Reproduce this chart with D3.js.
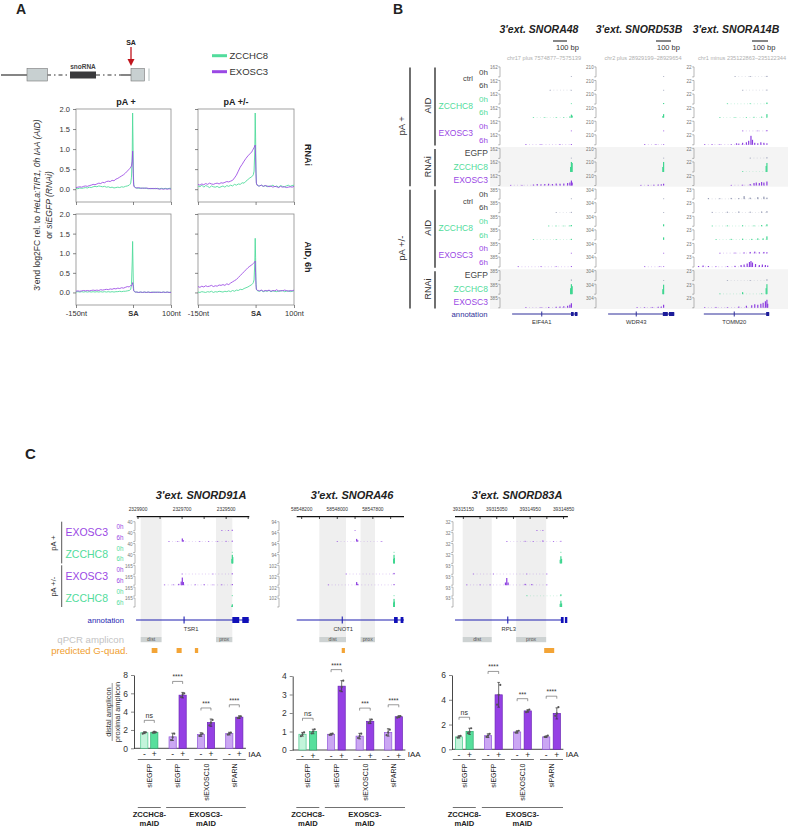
<!DOCTYPE html>
<html><head><meta charset="utf-8">
<script src="https://cdn.jsdelivr.net/npm/d3@7"></script>
<style>body{margin:0;background:#fff}svg{display:block}</style>
</head><body>
<svg id="c" width="796" height="830" font-family="'Liberation Sans', Arial, Helvetica, sans-serif"></svg>
<script>
// ================= DATA =================
// Panel A: metaprofiles (position in nt relative to SA)
const profPos=[-150,-145,-140,-135,-130,-125,-120,-115,-110,-105,-100,-95,-90,-85,-80,-75,-70,-65,-60,-55,-50,-45,-40,-35,-30,-25,-20,-15,-10,
 -8,-6,-4,-2,-1,0,1,2,4,6,8,
 10,15,20,25,30,35,40,45,50,55,60,65,70,75,80,85,90,95,100];
const rnaiPlusZCCHC8=[0.02,0.01,0.03,0.02,0.03,0.04,0.03,0.05,0.04,0.06,0.07,0.06,0.08,0.07,0.06,0.07,0.05,0.06,0.04,0.05,0.03,0.04,0.05,0.04,0.06,0.05,0.07,0.08,0.10,
 0.12,0.15,0.30,0.90,1.90,1.20,0.40,0.12,0.06,0.04,0.03,
 0.03,0.02,0.03,0.02,0.03,0.02,0.01,0.02,0.01,0.02,0.01,0.02,0.01,0.02,0.01,0.02,0.01,0.02,0.02];
const rnaiPlusEXOSC3=[0.04,0.05,0.06,0.05,0.07,0.08,0.07,0.09,0.10,0.12,0.11,0.13,0.15,0.14,0.17,0.16,0.19,0.20,0.19,0.22,0.21,0.25,0.27,0.30,0.33,0.36,0.40,0.45,0.50,
 0.52,0.55,0.58,0.70,0.95,0.60,0.25,0.08,0.05,0.04,0.03,
 0.03,0.04,0.02,0.03,0.02,0.03,0.02,0.01,0.02,0.01,0.02,0.01,0.00,0.01,0.00,0.01,0.00,0.01,0.00];
const rnaiPmZCCHC8=[0.08,0.06,0.10,0.05,0.09,0.07,0.04,0.08,0.06,0.05,0.07,0.04,0.06,0.08,0.05,0.09,0.07,0.10,0.08,0.12,0.10,0.13,0.12,0.16,0.15,0.20,0.24,0.28,0.31,
 0.33,0.36,0.45,1.00,1.90,1.30,0.50,0.15,0.10,0.09,0.08,
 0.08,0.10,0.07,0.09,0.06,0.08,0.07,0.10,0.06,0.08,0.05,0.09,0.07,0.06,0.08,0.10,0.07,0.09,0.10];
const rnaiPmEXOSC3=[0.12,0.10,0.13,0.11,0.14,0.12,0.15,0.13,0.12,0.14,0.15,0.13,0.16,0.15,0.17,0.19,0.18,0.20,0.22,0.28,0.35,0.45,0.55,0.62,0.70,0.77,0.83,0.88,0.93,
 0.97,1.00,1.04,1.08,1.10,0.80,0.40,0.15,0.10,0.09,0.08,
 0.08,0.10,0.07,0.09,0.08,0.06,0.08,0.05,0.07,0.06,0.04,0.07,0.05,0.06,0.04,0.05,0.06,0.05,0.07];
const aidPlusZCCHC8=[0.01,0.02,0.01,0.02,0.01,0.02,0.01,0.02,0.01,0.02,0.01,0.02,0.01,0.02,0.01,0.02,0.01,0.02,0.01,0.02,0.01,0.02,0.02,0.03,0.02,0.03,0.03,0.04,0.05,
 0.06,0.08,0.20,0.80,1.30,0.70,0.20,0.05,0.02,0.01,0.01,
 0.01,0.00,0.01,0.00,0.01,0.00,0.01,0.00,0.01,0.00,0.01,0.00,0.01,0.00,0.01,0.00,0.01,0.00,0.01];
const aidPlusEXOSC3=[0.03,0.04,0.03,0.04,0.05,0.04,0.05,0.04,0.05,0.06,0.05,0.06,0.05,0.07,0.06,0.07,0.08,0.07,0.09,0.08,0.10,0.09,0.11,0.10,0.12,0.11,0.13,0.15,0.14,
 0.16,0.18,0.17,0.20,0.25,0.20,0.10,0.04,0.02,0.01,0.01,
 0.01,0.00,0.01,0.00,0.01,0.00,0.01,0.00,0.00,0.01,0.00,0.01,0.00,0.00,0.01,0.00,0.01,0.00,0.00];
const aidPmZCCHC8=[0.01,0.00,0.02,0.01,0.00,0.02,0.01,0.03,0.00,0.02,0.01,0.03,0.02,0.01,0.03,0.02,0.04,0.02,0.05,0.03,0.06,0.05,0.08,0.07,0.10,0.12,0.14,0.17,0.20,
 0.22,0.25,0.32,0.80,1.38,0.90,0.30,0.08,0.05,0.04,0.03,
 0.03,0.05,0.02,0.04,0.03,0.05,0.02,0.04,0.03,0.02,0.04,0.03,0.05,0.02,0.03,0.04,0.02,0.03,0.04];
const aidPmEXOSC3=[0.15,0.13,0.16,0.14,0.17,0.15,0.16,0.18,0.15,0.17,0.16,0.19,0.18,0.20,0.18,0.22,0.20,0.24,0.27,0.30,0.33,0.38,0.43,0.48,0.53,0.58,0.63,0.67,0.70,
 0.72,0.74,0.76,0.78,0.80,0.50,0.20,0.08,0.06,0.05,0.05,
 0.04,0.06,0.03,0.05,0.04,0.06,0.03,0.05,0.04,0.07,0.03,0.05,0.04,0.06,0.05,0.03,0.05,0.04,0.06];
const aYTicks=[0,0.5,1,1.5,2];
const aXTicks=[-150,0,100];
const aXTickLabels=["-150nt","SA","100nt"];

// Panel B: track rows, scales, signal peaks [relative position 0-100, fraction of scale]
const bRowTimes=["0h","6h","0h","6h","0h","6h","EGFP","ZCCHC8","EXOSC3"];
const bRowKinds=["ctrl","ctrl","ZCCHC8","ZCCHC8","EXOSC3","EXOSC3","ctrl","ZCCHC8","EXOSC3"];
const bTitles=["3'ext. SNORA48","3'ext. SNORD53B","3'ext. SNORA14B"];
const bCoords=["chr17 plus 7574877–7575139","chr2 plus 28929199–28929654","chr1 minus 235122863–235122344"];
const bGenes=["EIF4A1","WDR43","TOMM20"];
const bScalesSNORA48=[162,162,162,162,162,162,162,162,162,385,385,385,385,385,385,385,385,385];
const bScalesSNORD53B=[210,210,210,210,210,210,210,210,210,304,304,304,304,304,304,304,304,304];
const bScalesSNORA14B=[22,22,22,22,22,22,22,22,22,23,23,23,23,23,23,23,23,23];
const bTracksSNORA48=[
 [[90,0.04]],[[62,0.02],[90,0.05]],[[90,0.05]],
 [[40,0.03],[55,0.03],[70,0.04],[80,0.04],[88,0.12],[90,0.3],[91,0.2]],
 [[90,0.05]],[[30,0.02],[50,0.03],[75,0.03],[90,0.08]],
 [[90,0.05]],[[89,0.5],[90,1.0],[91,0.9]],
 [[10,0.03],[25,0.04],[40,0.1],[45,0.15],[50,0.12],[55,0.15],[60,0.18],[65,0.15],[70,0.2],[75,0.18],[80,0.2],[85,0.25],[88,0.3],[90,0.5],[91,0.3]],
 [[90,0.05]],[[70,0.03],[90,0.08]],
 [[60,0.04],[70,0.05],[80,0.05],[88,0.08],[90,0.12]],
 [[40,0.03],[70,0.03],[90,0.1]],
 [[90,0.06]],[[20,0.03],[50,0.03],[70,0.04],[90,0.08]],
 [[90,0.1]],[[89,0.6],[90,1.0],[91,0.8]],
 [[30,0.03],[50,0.06],[60,0.08],[70,0.1],[75,0.12],[80,0.15],[85,0.2],[88,0.3],[90,0.45]]
];
const bTracksSNORD53B=[
 [[85,0.04]],[[85,0.04]],[[85,0.1]],[[84,0.15],[85,0.35]],
 [[85,0.05]],[[60,0.02],[75,0.03],[85,0.05]],
 [[85,0.03]],[[84,0.5],[85,1.0]],
 [[55,0.04],[65,0.06],[72,0.08],[78,0.1],[82,0.12],[85,0.18]],
 [[85,0.04]],[[85,0.05]],[[85,0.2]],[[85,0.25]],
 [[85,0.04]],[[60,0.03],[80,0.04],[85,0.06]],
 [[85,0.05]],[[84,0.5],[85,0.95]],
 [[50,0.04],[60,0.05],[70,0.08],[78,0.1],[82,0.12],[85,0.3]]
];
const bTracksSNORA14B=[
 [[50,0.05],[70,0.08],[92,0.1]],[[60,0.05],[92,0.08]],
 [[40,0.05],[70,0.06],[92,0.15]],
 [[30,0.03],[50,0.05],[65,0.06],[75,0.08],[85,0.1],[92,0.35]],
 [[60,0.05],[80,0.06],[92,0.1]],
 [[10,0.03],[20,0.04],[30,0.03],[45,0.06],[52,0.15],[55,0.12],[60,0.2],[65,0.25],[68,0.4],[71,0.9],[73,0.5],[76,0.2],[80,0.15],[84,0.25],[88,0.2],[92,0.15]],
 [[70,0.05],[92,0.1]],
 [[60,0.05],[91,0.6],[92,0.9]],
 [[45,0.05],[60,0.08],[70,0.15],[75,0.25],[78,0.3],[82,0.25],[85,0.35],[88,0.3],[92,0.4]],
 [[15,0.1],[30,0.08],[45,0.12],[55,0.1],[62,0.3],[70,0.15],[80,0.2],[88,0.25],[92,0.15]],
 [[20,0.08],[40,0.1],[55,0.12],[70,0.1],[85,0.12],[92,0.15]],
 [[20,0.05],[40,0.08],[60,0.1],[75,0.08],[85,0.12],[92,0.2]],
 [[25,0.06],[45,0.1],[60,0.12],[72,0.1],[80,0.15],[87,0.15],[92,0.35]],
 [[30,0.05],[50,0.08],[62,0.1],[70,0.15],[76,0.18],[82,0.12],[88,0.15],[92,0.12]],
 [[2,0.1],[8,0.15],[15,0.1],[25,0.06],[40,0.08],[50,0.12],[58,0.2],[62,0.25],[66,0.35],[69,0.5],[71,0.6],[73,0.45],[77,0.3],[82,0.2],[86,0.25],[90,0.2],[93,0.15]],
 [[40,0.05],[70,0.06],[92,0.12]],
 [[30,0.05],[60,0.2],[85,0.08],[91,0.6],[92,1.0]],
 [[10,0.06],[25,0.08],[40,0.06],[55,0.12],[65,0.2],[72,0.25],[76,0.35],[80,0.3],[84,0.4],[87,0.5],[90,0.65],[92,0.8],[93,0.4]]
];
// gene models (relative 0-100): line, intron marker, exon blocks
const bGeneEIF4A1={line:[12,98],tick:51,exons:[[89.5,93],[94.5,98]]};
const bGeneWDR43={line:[12,99],tick:49,exons:[[84,90.5],[92,99]]};
const bGeneTOMM20={line:[9,95],tick:49,exons:[[91,95]]};

// Panel C: genome tracks (genomic coordinates)
const cTitles=["3'ext. SNORD91A","3'ext. SNORA46","3'ext. SNORD83A"];
const cRowTimes=["0h","6h","0h","6h","0h","6h","0h","6h"];
const cRowKinds=["EXOSC3","EXOSC3","ZCCHC8","ZCCHC8","EXOSC3","EXOSC3","ZCCHC8","ZCCHC8"];
const cScalesSNORD91A=[40,40,40,40,165,165,165,165];
const cScalesSNORA46=[94,94,94,94,102,102,102,102];
const cScalesSNORD83A=[32,32,32,32,93,93,93,93];
const cDomSNORD91A=[2329906,2329395], cTicksSNORD91A=[2329900,2329800,2329700,2329600,2329500,2329400], cLabelsSNORD91A=[2329900,2329700,2329500];
const cDomSNORA46=[58548228,58547625], cTicksSNORA46=[58548200,58548100,58548000,58547900,58547800,58547700], cLabelsSNORA46=[58548200,58548000,58547800];
const cDomSNORD83A=[39315175,39314837], cTicksSNORD83A=[39315150,39315100,39315050,39315000,39314950,39314900,39314850], cLabelsSNORD83A=[39315150,39315050,39314950,39314850];
const cTracksSNORD91A=[
 [[2329520,0.06],[2329490,0.05],[2329472,0.1]],
 [[2329760,0.04],[2329720,0.05],[2329699,0.35],[2329694,0.15],[2329620,0.05],[2329580,0.06],[2329540,0.05],[2329500,0.08],[2329472,0.1]],
 [[2329472,0.05]],
 [[2329474,0.5],[2329472,0.95],[2329470,0.7]],
 [[2329700,0.05],[2329560,0.06],[2329472,0.1]],
 [[2329780,0.05],[2329740,0.08],[2329715,0.15],[2329704,0.4],[2329699,0.85],[2329694,0.35],[2329640,0.08],[2329600,0.1],[2329560,0.06],[2329520,0.08],[2329472,0.12]],
 [[2329472,0.08]],
 [[2329474,0.15],[2329472,0.3]]
];
const cTracksSNORA46=[
 [[58547900,0.04]],
 [[58548000,0.04],[58547891,0.3],[58547885,0.15],[58547750,0.05]],
 [[58547681,0.05]],
 [[58547683,0.5],[58547681,0.95],[58547679,0.6]],
 [[58547950,0.04],[58547681,0.15]],
 [[58548050,0.05],[58547891,0.35],[58547885,0.15],[58547681,0.12]],
 [[58547681,0.05]],
 [[58547683,0.5],[58547681,0.9],[58547679,0.6]]
];
const cTracksSNORD83A=[
 [[39314930,0.06],[39314912,0.08]],
 [[39315020,0.06],[39314965,0.08],[39314941,0.06],[39314912,0.12],[39314880,0.06],[39314858,0.08]],
 [[39314858,0.05]],
 [[39314860,0.4],[39314858,0.8],[39314856,0.5]],
 [[39315120,0.04],[39315060,0.04],[39314960,0.05],[39314900,0.05]],
 [[39315140,0.05],[39315100,0.06],[39315070,0.05],[39315024,0.3],[39315020,0.8],[39315016,0.3],[39314965,0.15],[39314945,0.12],[39314900,0.06]],
 [[39314960,0.04],[39314858,0.2]],
 [[39314860,0.35],[39314858,0.7],[39314856,0.4]]
];
const cShadeSNORD91A=[[2329888,2329793],[2329546,2329472]];
const cShadeSNORA46=[[58548101,58547951],[58547869,58547788]];
const cShadeSNORD83A=[[39315152,39315065],[39314992,39314902]];
const cShadeLabels=["dist","prox"];
const cGeneTSR1={name:"TSR1",line:[2329909,2329395],tick:2329691,exons:[[2329472,2329438],[2329427,2329395]]};
const cGeneCNOT1={name:"CNOT1",line:[58548228,58547625],tick:58547972,exons:[[58547681,58547657],[58547644,58547625]]};
const cGeneRPL3={name:"RPL3",line:[39315175,39314856],tick:39315017,exons:[[39314858,39314848],[39314846,39314837]]};
const cGquadSNORD91A=[[2329838,2329812],[2329725,2329702],[2329642,2329627]];
const cGquadSNORA46=[[58547975,58547957]];
const cGquadSNORD83A=[[39314908,39314878]];

// Panel C: qPCR bar charts (order: ZCCHC8 siEGFP -,+ ; EXOSC3 siEGFP -,+ ; siEXOSC10 -,+ ; siPARN -,+)
const barSiRNA=["siEGFP","siEGFP","siEXOSC10","siPARN"];
const barIAA=["-","+"];
const barLines=["ZCCHC8-","EXOSC3-"];
const meanSNORD91A=[1.7,1.75,1.25,5.8,1.5,2.8,1.6,3.4];
const errSNORD91A=[0.1,0.1,0.4,0.3,0.2,0.4,0.15,0.15];
const repSNORD91A=[[1.6,1.7,1.75],[1.7,1.8,1.75],[0.9,1.2,1.6],[5.6,5.9,6.0],[1.35,1.5,1.6],[2.5,2.8,3.1],[1.5,1.6,1.7],[3.3,3.4,3.5]];
const meanSNORA46=[0.85,1.0,0.85,3.45,0.75,1.55,0.95,1.8];
const errSNORA46=[0.1,0.12,0.05,0.3,0.15,0.12,0.2,0.05];
const repSNORA46=[[0.75,0.85,0.95],[0.9,1.0,1.12],[0.82,0.85,0.88],[3.2,3.4,3.75],[0.65,0.75,0.88],[1.45,1.55,1.65],[0.8,0.95,1.1],[1.75,1.8,1.83]];
const meanSNORD83A=[1.0,1.45,1.1,4.4,1.4,3.1,1.0,2.9];
const errSNORD83A=[0.1,0.25,0.15,1.0,0.1,0.1,0.05,0.45];
const repSNORD83A=[[0.95,1.0,1.08],[1.3,1.4,1.7],[1.0,1.1,1.25],[3.6,4.4,5.2],[1.35,1.4,1.5],[3.0,3.1,3.2],[1.0,1.05,1.1],[2.7,2.9,3.4]];
const sigLabels=["ns","****","***","****"];

// ================= DRAWING =================
const svg=d3.select("#c");
const GREEN="#52dc9c", PURPLE="#9a48e4", DARK="#222", NAVY="#2f2f9a", BLUE="#1e1eb0";
const kindColor={ctrl:"#444",ZCCHC8:GREEN,EXOSC3:PURPLE};
const trackColor={ctrl:"#8f95b0",ZCCHC8:"#3fd690",EXOSC3:"#8c3ee0"};

function txt(g,x,y,s,o={}){
  const t=g.append("text").attr("x",x).attr("y",y).text(s)
    .attr("font-size",o.size||8).attr("fill",o.fill||DARK)
    .attr("text-anchor",o.anchor||"start");
  if(o.bold) t.attr("font-weight","bold");
  if(o.italic) t.attr("font-style","italic");
  if(o.rotate!=null) t.attr("transform",`rotate(${o.rotate},${x},${y})`);
  return t;
}
function styleAxis(g,size){
  g.attr("font-family",null).attr("font-size",size);
  g.selectAll("text").attr("fill","#333");
  g.selectAll("line").attr("stroke","#555").attr("stroke-width",0.7);
  g.selectAll(".domain").attr("stroke","#555");
}

// ---------- Panel A ----------
const gA=svg.append("g");
txt(gA,16,14,"A",{size:14,bold:true});
// schematic
gA.append("line").attr("x1",1).attr("x2",27).attr("y1",75).attr("y2",75).attr("stroke","#333").attr("stroke-width",1.2);
gA.append("line").attr("x1",47).attr("x2",70).attr("y1",75).attr("y2",75).attr("stroke","#333").attr("stroke-width",1.2).attr("stroke-dasharray","4,3,1.5,3");
gA.append("line").attr("x1",96).attr("x2",121).attr("y1",75).attr("y2",75).attr("stroke","#333").attr("stroke-width",1.2).attr("stroke-dasharray","4,3,1.5,3");
gA.append("line").attr("x1",121).attr("x2",131).attr("y1",75).attr("y2",75).attr("stroke","#333").attr("stroke-width",1.2);
gA.append("rect").attr("x",27).attr("y",68.5).attr("width",20.5).attr("height",12.5).attr("fill","#c8d0d1").attr("stroke","#777").attr("stroke-width",0.6);
gA.append("rect").attr("x",70).attr("y",71.5).attr("width",26).attr("height",7).attr("fill","#3a3a3c");
gA.append("rect").attr("x",131).attr("y",68.5).attr("width",13.5).attr("height",12.5).attr("fill","#c8d0d1").attr("stroke","#777").attr("stroke-width",0.6);
gA.append("rect").attr("x",148).attr("y",68.5).attr("width",2).attr("height",12.5).attr("fill","#d8dede");
txt(gA,83,69,"snoRNA",{size:6.5,bold:true,anchor:"middle",fill:"#444"});
txt(gA,131,45,"SA",{size:7,bold:true,anchor:"middle"});
gA.append("line").attr("x1",131).attr("x2",131).attr("y1",47).attr("y2",60).attr("stroke","#c0141c").attr("stroke-width",1.3);
gA.append("path").attr("d","M127.5,59 L134.5,59 L131,66 Z").attr("fill","#c0141c");
// legend
[["ZCCHC8",GREEN,55.7],["EXOSC3",PURPLE,71.7]].forEach(([l,c,y])=>{
  gA.append("line").attr("x1",212).attr("x2",227).attr("y1",y).attr("y2",y).attr("stroke",c).attr("stroke-width",3);
  txt(gA,229.5,y+3.4,l,{size:9.5,fill:"#333"});
});
const aPlots=[
 {x0:76,x1:171,y0:109,y1:202,z:rnaiPlusZCCHC8,e:rnaiPlusEXOSC3,ylab:true,xlab:false},
 {x0:198,x1:294,y0:109,y1:202,z:rnaiPmZCCHC8,e:rnaiPmEXOSC3,ylab:false,xlab:false},
 {x0:76,x1:171,y0:214,y1:305,z:aidPlusZCCHC8,e:aidPlusEXOSC3,ylab:true,xlab:true},
 {x0:198,x1:294,y0:214,y1:305,z:aidPmZCCHC8,e:aidPmEXOSC3,ylab:false,xlab:true}
];
aPlots.forEach(p=>{
  const x=d3.scaleLinear().domain([-150,100]).range([p.x0,p.x1]);
  const y=d3.scaleLinear().domain([-0.32,2.0]).range([p.y1,p.y0]);
  const g=gA.append("g");
  g.append("rect").attr("x",p.x0).attr("y",p.y0).attr("width",p.x1-p.x0).attr("height",p.y1-p.y0).attr("fill","none").attr("stroke","#8c8c8c").attr("stroke-width",0.8);
  const ay=g.append("g").attr("transform",`translate(${p.x0},0)`).call(d3.axisLeft(y).tickValues(aYTicks).tickSize(3).tickSizeOuter(0).tickFormat(p.ylab?d3.format(".1f"):()=>""));
  styleAxis(ay,7.5); ay.select(".domain").remove();
  const ax=g.append("g").attr("transform",`translate(0,${p.y1})`).call(d3.axisBottom(x).tickValues(aXTicks).tickSize(3).tickSizeOuter(0).tickFormat((d,i)=>p.xlab?aXTickLabels[i]:""));
  styleAxis(ax,7.5); ax.select(".domain").remove();
  ax.selectAll("text").filter(d=>d===0).attr("font-weight","bold");
  const line=d3.line().x(d=>x(d[0])).y(d=>y(d[1]));
  const mk=arr=>profPos.map((pp,i)=>[pp,arr[i]]).filter(d=>d[1]!=null);
  g.append("path").attr("d",line(mk(p.z))).attr("fill","none").attr("stroke",GREEN).attr("stroke-width",1).attr("opacity",0.9);
  g.append("path").attr("d",line(mk(p.e))).attr("fill","none").attr("stroke",PURPLE).attr("stroke-width",1).attr("opacity",0.85);
});
txt(gA,126,105,"pA +",{size:9,bold:true,anchor:"middle"});
txt(gA,236,105,"pA +/-",{size:9,bold:true,anchor:"middle"});
txt(gA,305,155,"RNAi",{size:9,bold:true,anchor:"middle",rotate:90});
txt(gA,305,257,"AID, 6h",{size:9,bold:true,anchor:"middle",rotate:90});
{
  const t1=gA.append("text").attr("transform","translate(39.5,205) rotate(-90)").attr("text-anchor","middle").attr("font-size",8.6).attr("fill","#333");
  t1.append("tspan").text("3'end log2FC rel. to ");
  t1.append("tspan").attr("font-style","italic").text("HeLa:TIR1, 0h IAA (AID)");
  const t2=gA.append("text").attr("transform","translate(51.5,205) rotate(-90)").attr("text-anchor","middle").attr("font-size",8.6).attr("fill","#333");
  t2.append("tspan").text("or ");
  t2.append("tspan").attr("font-style","italic").text("siEGFP (RNAi)");
}

// ---------- generic track drawer ----------
function drawTrack(g,x,base,h,peaks,color){
  if(!peaks.length) return;
  const xs=peaks.map(d=>x(d[0]));
  g.append("line").attr("x1",d3.min(xs)).attr("x2",d3.max(xs)).attr("y1",base-0.3).attr("y2",base-0.3)
    .attr("stroke",color).attr("stroke-width",0.6).attr("stroke-dasharray","0.8,2.5").attr("opacity",0.5);
  g.selectAll(null).data(peaks).join("rect")
    .attr("x",d=>x(d[0])-0.6).attr("width",1.2)
    .attr("y",d=>base-Math.max(0.6,d[1]*h)).attr("height",d=>Math.max(0.6,d[1]*h))
    .attr("fill",color);
}
function bracket(g,bx,top,base,val,size){
  g.append("path").attr("d",`M${bx-1.8},${top}H${bx}V${base}H${bx-1.8}`).attr("fill","none").attr("stroke","#888").attr("stroke-width",0.6);
  txt(g,bx-2.3,top+2.4,val,{size:size,anchor:"end",fill:"#777"});
}

// ---------- Panel B ----------
const gB=svg.append("g");
txt(gB,393,14,"B",{size:14,bold:true});
const bRowY=d3.range(18).map(i=>71.6+i*13.58);
const bTop=i=>bRowY[i]-4.7, bBase=i=>bRowY[i]+5.3;
// RNAi background
[6,15].forEach(s=>gB.append("rect").attr("x",490).attr("y",bRowY[s]-6).attr("width",298).attr("height",bRowY[s+2]-bRowY[s]+12.5).attr("fill","#f4f4f4"));
const bCols=[
 {x0:503,x1:579,bx:500,tx:539,cx:544,sb:[553,567],sbt:567.5,scales:bScalesSNORA48,tracks:bTracksSNORA48,gene:bGeneEIF4A1},
 {x0:599,x1:675,bx:596,tx:639,cx:643,sb:[656,671],sbt:668.5,scales:bScalesSNORD53B,tracks:bTracksSNORD53B,gene:bGeneWDR43},
 {x0:697,x1:773,bx:694,tx:736,cx:742,sb:[752,768],sbt:764,scales:bScalesSNORA14B,tracks:bTracksSNORA14B,gene:bGeneTOMM20}
];
bCols.forEach((c,ci)=>{
  const x=d3.scaleLinear().domain([0,100]).range([c.x0,c.x1]);
  txt(gB,c.tx,33,bTitles[ci],{size:10.5,bold:true,italic:true,anchor:"middle"});
  gB.append("line").attr("x1",c.sb[0]).attr("x2",c.sb[1]).attr("y1",41).attr("y2",41).attr("stroke","#111").attr("stroke-width",1);
  txt(gB,c.sbt,50,"100 bp",{size:7.5,anchor:"middle",fill:"#333"});
  txt(gB,c.cx,60,bCoords[ci],{size:5.6,anchor:"middle",fill:"#b0b0b0"});
  for(let i=0;i<18;i++){
    bracket(gB,c.bx,bTop(i),bBase(i),c.scales[i],4.6);
    const kind=bRowKinds[i%9];
    const h=bBase(i)-bTop(i);
    drawTrack(gB,x,bBase(i),h,c.tracks[i],trackColor[kind]);
  }
  // annotation
  const ay=314;
  gB.append("line").attr("x1",x(c.gene.line[0])).attr("x2",x(c.gene.line[1])).attr("y1",ay).attr("y2",ay).attr("stroke",NAVY).attr("stroke-width",1);
  gB.append("line").attr("x1",x(c.gene.tick)).attr("x2",x(c.gene.tick)).attr("y1",ay-2.5).attr("y2",ay+2.5).attr("stroke",NAVY).attr("stroke-width",1);
  c.gene.exons.forEach(e=>gB.append("rect").attr("x",x(e[0])).attr("width",x(e[1])-x(e[0])).attr("y",ay-2).attr("height",4).attr("fill","#1c1c9a"));
  txt(gB,x(c.gene.tick),324,bGenes[ci],{size:5.8,anchor:"middle",fill:"#333"});
});
// row labels
[0,9].forEach(o=>{
  txt(gB,473,(bRowY[o]+bRowY[o+1])/2+3,"ctrl",{size:7.5,anchor:"end",fill:"#444"});
  txt(gB,473,(bRowY[o+2]+bRowY[o+3])/2+3,"ZCCHC8",{size:8.5,anchor:"end",fill:GREEN});
  txt(gB,473,(bRowY[o+4]+bRowY[o+5])/2+3,"EXOSC3",{size:8.5,anchor:"end",fill:PURPLE});
  for(let k=0;k<9;k++){
    txt(gB,488,bRowY[o+k]+3,bRowTimes[k],{size:k<6?8:8.5,anchor:"end",fill:kindColor[bRowKinds[k]]});
  }
  // group lines
  gB.append("line").attr("x1",435).attr("x2",435).attr("y1",bRowY[o]-4).attr("y2",bRowY[o+5]+6).attr("stroke","#333").attr("stroke-width",1.4);
  gB.append("line").attr("x1",435).attr("x2",435).attr("y1",bRowY[o+6]-4).attr("y2",bRowY[o+8]+6).attr("stroke","#333").attr("stroke-width",1.4);
  gB.append("line").attr("x1",410).attr("x2",410).attr("y1",bRowY[o]-4).attr("y2",bRowY[o+8]+6).attr("stroke","#333").attr("stroke-width",1.4);
  txt(gB,431,(bRowY[o]+bRowY[o+5])/2,"AID",{size:9.5,anchor:"middle",rotate:-90,fill:"#333"});
  txt(gB,431,(bRowY[o+6]+bRowY[o+8])/2,"RNAi",{size:9,anchor:"middle",rotate:-90,fill:"#333"});
  txt(gB,405,(bRowY[o]+bRowY[o+8])/2,o===0?"pA +":"pA +/-",{size:9.5,anchor:"middle",rotate:-90,fill:"#333"});
});
txt(gB,487.5,317,"annotation",{size:7.7,anchor:"end",fill:NAVY});

// ---------- Panel C tracks ----------
const gC=svg.append("g");
txt(gC,25,459,"C",{size:15,bold:true});
const cRowY=d3.range(8).map(i=>526.7+i*10.9);
const cTop=i=>cRowY[i]-5, cBase=i=>cRowY[i]+4;
const cCols=[
 {dom:cDomSNORD91A,rng:[136.7,249.3],tx:201,ticks:cTicksSNORD91A,labs:cLabelsSNORD91A,scales:cScalesSNORD91A,tracks:cTracksSNORD91A,shade:cShadeSNORD91A,gene:cGeneTSR1,gq:cGquadSNORD91A,bx:135},
 {dom:cDomSNORA46,rng:[296.7,404],tx:352,ticks:cTicksSNORA46,labs:cLabelsSNORA46,scales:cScalesSNORA46,tracks:cTracksSNORA46,shade:cShadeSNORA46,gene:cGeneCNOT1,gq:cGquadSNORA46,bx:279},
 {dom:cDomSNORD83A,rng:[455,567.9],tx:517,ticks:cTicksSNORD83A,labs:cLabelsSNORD83A,scales:cScalesSNORD83A,tracks:cTracksSNORD83A,shade:cShadeSNORD83A,gene:cGeneRPL3,gq:cGquadSNORD83A,bx:453}
];
cCols.forEach((c,ci)=>{
  const x=d3.scaleLinear().domain(c.dom).range(c.rng);
  // shading
  c.shade.forEach((s,si)=>{
    gC.append("rect").attr("x",x(s[0])).attr("width",x(s[1])-x(s[0])).attr("y",518).attr("height",119).attr("fill","#efefef");
    gC.append("rect").attr("x",x(s[0])).attr("width",x(s[1])-x(s[0])).attr("y",637).attr("height",5.2).attr("fill","#cdd2d2");
    txt(gC,(x(s[0])+x(s[1]))/2,641.4,cShadeLabels[si],{size:5.2,anchor:"middle",fill:"#555"});
  });
  txt(gC,c.tx,499,cTitles[ci],{size:11,bold:true,italic:true,anchor:"middle"});
  gC.append("line").attr("x1",c.rng[0]).attr("x2",c.rng[1]).attr("y1",516.7).attr("y2",516.7).attr("stroke","#111").attr("stroke-width",1.2);
  c.ticks.forEach(t=>gC.append("line").attr("x1",x(t)).attr("x2",x(t)).attr("y1",516.7).attr("y2",519).attr("stroke","#111").attr("stroke-width",0.8));
  c.labs.forEach(t=>txt(gC,x(t),511,String(t),{size:4.8,anchor:"middle",fill:"#333"}));
  for(let i=0;i<8;i++){
    bracket(gC,c.bx,cTop(i),cBase(i),c.scales[i],4.6);
    drawTrack(gC,x,cBase(i),cBase(i)-cTop(i),c.tracks[i],trackColor[cRowKinds[i]]);
  }
  // gene model
  const ay=620;
  gC.append("line").attr("x1",x(c.gene.line[0])).attr("x2",x(c.gene.line[1])).attr("y1",ay).attr("y2",ay).attr("stroke",BLUE).attr("stroke-width",1.2);
  gC.append("line").attr("x1",x(c.gene.tick)).attr("x2",x(c.gene.tick)).attr("y1",ay-3.5).attr("y2",ay+3.5).attr("stroke",BLUE).attr("stroke-width",1.1);
  c.gene.exons.forEach(e=>gC.append("rect").attr("x",x(e[0])).attr("width",x(e[1])-x(e[0])-0.6).attr("y",ay-3).attr("height",6).attr("fill","#1010b8"));
  txt(gC,x(c.gene.tick)+(ci===0?7:1),631,c.gene.name,{size:5.8,anchor:"middle",fill:"#333"});
  c.gq.forEach(q=>gC.append("rect").attr("x",x(q[0])).attr("width",Math.max(2,x(q[1])-x(q[0]))).attr("y",648).attr("height",5).attr("fill","#f3a436"));
});
[0,4].forEach(o=>{
  txt(gC,108,(cRowY[o]+cRowY[o+1])/2+4,"EXOSC3",{size:10.5,anchor:"end",fill:PURPLE});
  txt(gC,108,(cRowY[o+2]+cRowY[o+3])/2+4,"ZCCHC8",{size:10.5,anchor:"end",fill:GREEN});
  for(let k=0;k<4;k++) txt(gC,123.5,cRowY[o+k]+2,cRowTimes[o+k],{size:6.3,anchor:"end",fill:kindColor[cRowKinds[o+k]]});
  gC.append("line").attr("x1",61.7).attr("x2",61.7).attr("y1",cRowY[o]-5).attr("y2",cRowY[o+3]+4).attr("stroke","#444").attr("stroke-width",0.9);
  txt(gC,56,(cRowY[o]+cRowY[o+3])/2,o===0?"pA +":"pA +/-",{size:7.5,anchor:"middle",rotate:-90,fill:"#333"});
});
txt(gC,124,622.5,"annotation",{size:7.8,anchor:"end",fill:BLUE});
txt(gC,124,643,"qPCR amplicon",{size:9.6,anchor:"end",fill:"#c3c3c3"});
txt(gC,128,654,"predicted G-quad.",{size:9.6,anchor:"end",fill:"#f0a030"});

// ---------- Panel C bar charts ----------
const barFill=[["#c3f4db","#57df9c"],["#cba7f3","#9540e4"]];
const barStroke=[["#4bc98d","#2fae70"],["#9357da","#6a24b6"]];
function drawBars(c){
  const g=svg.append("g");
  const y=d3.scaleLinear().domain(c.domain).range([c.base,c.top]);
  const gx=d3.scalePoint().domain(d3.range(4)).range(c.groups);
  const bx=i=>gx(Math.floor(i/2))+(i%2?1:-1)*c.off;
  const bw=7.2;
  const ay=g.append("g").attr("transform",`translate(${c.axisX},0)`).call(d3.axisLeft(y).tickValues(c.ticks).tickSize(3).tickSizeOuter(0).tickFormat(d3.format("d")));
  styleAxis(ay,8.5); ay.select(".domain").attr("stroke","#333").attr("stroke-width",0.9);
  g.append("line").attr("x1",c.axisX).attr("x2",bx(7)+bw/2+3).attr("y1",c.base).attr("y2",c.base).attr("stroke","#333").attr("stroke-width",0.9);
  c.means.forEach((m,i)=>{
    const grp=Math.floor(i/2)===0?0:1, s=i%2;
    g.append("rect").attr("x",bx(i)-bw/2).attr("width",bw).attr("y",y(m)).attr("height",c.base-y(m))
      .attr("fill",barFill[grp][s]).attr("stroke",barStroke[grp][s]).attr("stroke-width",0.7);
    const lo=y(m-c.err[i]), hi=y(m+c.err[i]);
    g.append("line").attr("x1",bx(i)).attr("x2",bx(i)).attr("y1",lo).attr("y2",hi).attr("stroke","#333").attr("stroke-width",0.7);
    [lo,hi].forEach(v=>g.append("line").attr("x1",bx(i)-1.3).attr("x2",bx(i)+1.3).attr("y1",v).attr("y2",v).attr("stroke","#333").attr("stroke-width",0.7));
    c.reps[i].forEach((r,k)=>g.append("circle").attr("cx",bx(i)+(k-1)*1.6).attr("cy",y(r)).attr("r",1.1).attr("fill","#555"));
    txt(g,bx(i),c.base+8.5,barIAA[s],{size:8.5,anchor:"middle",fill:"#222"});
  });
  // significance brackets
  for(let p=0;p<4;p++){
    const top=d3.min([2*p,2*p+1],i=>Math.min(y(c.means[i]+c.err[i]),y(d3.max(c.reps[i]))));
    const by=top-11, x1=bx(2*p), x2=bx(2*p+1);
    g.append("path").attr("d",`M${x1},${by+2.5}V${by}H${x2}V${by+2.5}`).attr("fill","none").attr("stroke","#555").attr("stroke-width",0.6);
    txt(g,(x1+x2)/2,by-2,sigLabels[p],{size:sigLabels[p]==="ns"?7:6.5,anchor:"middle",fill:"#333"});
    // siRNA pair line + rotated label
    const cx=gx(p);
    g.append("line").attr("x1",cx-11.5).attr("x2",cx+11.5).attr("y1",759.5).attr("y2",759.5).attr("stroke","#333").attr("stroke-width",0.7);
    txt(g,cx+2.6,763.5,barSiRNA[p],{size:7,anchor:"end",rotate:-90,fill:"#222"});
  }
  txt(g,bx(7)+9,756.5,"IAA",{size:8,fill:"#222"});
  g.append("line").attr("x1",gx(0)-11.5).attr("x2",gx(0)+11.5).attr("y1",807.5).attr("y2",807.5).attr("stroke","#333").attr("stroke-width",0.7);
  g.append("line").attr("x1",gx(1)-11.5).attr("x2",gx(3)+11.5).attr("y1",807.5).attr("y2",807.5).attr("stroke","#333").attr("stroke-width",0.7);
  [[gx(0),barLines[0]],[(gx(1)+gx(3))/2,barLines[1]]].forEach(([cx,l])=>{
    txt(g,cx,817,l,{size:7.6,bold:true,anchor:"middle"});
    txt(g,cx,826,"mAID",{size:7.6,bold:true,anchor:"middle"});
  });
  return g;
}
const g1=drawBars({axisX:134,domain:[0,8],ticks:[0,2,4,6,8],top:675,base:748.3,groups:[149.3,234.3],off:5,means:meanSNORD91A,err:errSNORD91A,reps:repSNORD91A});
drawBars({axisX:292.7,domain:[0,4],ticks:[0,1,2,3,4],top:676,base:750,groups:[307.8,393.5],off:5.3,means:meanSNORA46,err:errSNORA46,reps:repSNORA46});
drawBars({axisX:452,domain:[0,6],ticks:[0,2,4,6],top:675,base:749.3,groups:[464.3,551.5],off:5.3,means:meanSNORD83A,err:errSNORD83A,reps:repSNORD83A});
// y axis title (fraction)
txt(g1,110.5,712,"distal amplicon",{size:7.5,anchor:"middle",rotate:-90,fill:"#333"});
g1.append("line").attr("x1",112.2).attr("x2",112.2).attr("y1",683).attr("y2",741).attr("stroke","#555").attr("stroke-width",0.6);
txt(g1,119.5,712,"proximal amplicon",{size:7.5,anchor:"middle",rotate:-90,fill:"#333"});
</script>
</body></html>
